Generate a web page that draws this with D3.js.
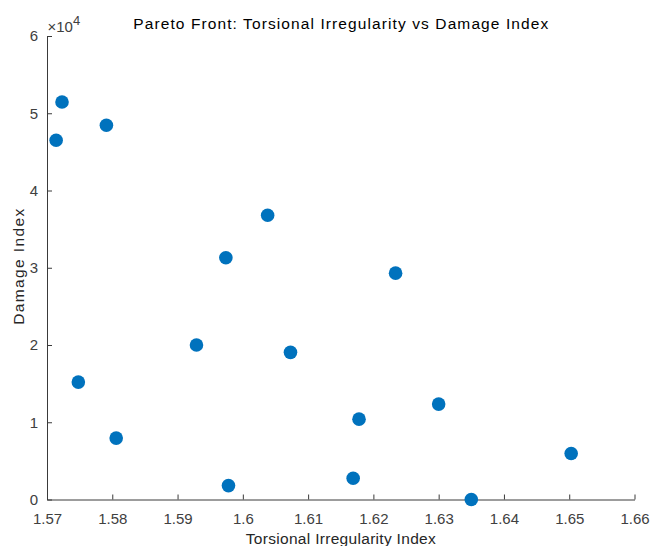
<!DOCTYPE html>
<html>
<head>
<meta charset="utf-8">
<script src="https://cdn.jsdelivr.net/npm/d3@7"></script>
<style>
  html, body { margin: 0; padding: 0; background: #fff; }
  svg { display: block; font-family: "Liberation Sans", Arial, Helvetica, sans-serif; }
</style>
</head>
<body>
<svg id="chart" width="652" height="546"></svg>
<script>
// Pareto solutions: torsional irregularity vs damage index
const torsionalIndex = [1.5714, 1.5723, 1.5791, 1.6038, 1.5974, 1.6234, 1.5929, 1.6073,
                        1.5748, 1.5806, 1.5978, 1.6169, 1.6178, 1.6300, 1.6350, 1.6503];
const damageIndex    = [46500, 51450, 48450, 36800, 31300, 29300, 20000, 19050,
                        15200, 7950, 1800, 2750, 10400, 12350, 0, 5950];

const xTicks = [1.57, 1.58, 1.59, 1.60, 1.61, 1.62, 1.63, 1.64, 1.65, 1.66];
const xTickLabels = ["1.57", "1.58", "1.59", "1.6", "1.61", "1.62", "1.63", "1.64", "1.65", "1.66"];
const yTicks = [0, 10000, 20000, 30000, 40000, 50000, 60000];
const yTickLabels = ["0", "1", "2", "3", "4", "5", "6"];

const titleText = "Pareto Front: Torsional Irregularity vs Damage Index";
const xLabelText = "Torsional Irregularity Index";
const yLabelText = "Damage Index";

const svg = d3.select("#chart");
const W = 652, H = 546;
const margin = { left: 47, right: W - 634.5, top: 36, bottom: H - 499.5 };

const x = d3.scaleLinear().domain([1.57, 1.66]).range([margin.left, W - margin.right]);
const y = d3.scaleLinear().domain([0, 60000]).range([H - margin.bottom, margin.top]);

const axisColor = "#3a3a3a";
const tickTextColor = "#404040";
const labelColor = "#262626";

// x axis, ticks pointing into the plot
const xAxis = d3.axisBottom(x)
  .tickValues(xTicks)
  .tickFormat((d, i) => xTickLabels[i])
  .tickSizeInner(-5)
  .tickSizeOuter(0)
  .tickPadding(14);

const gx = svg.append("g")
  .attr("transform", `translate(0,${H - margin.bottom})`)
  .call(xAxis);

// y axis, ticks pointing into the plot
const yAxis = d3.axisLeft(y)
  .tickValues(yTicks)
  .tickFormat((d, i) => yTickLabels[i])
  .tickSizeInner(-5)
  .tickSizeOuter(0)
  .tickPadding(9);

const gy = svg.append("g")
  .attr("transform", `translate(${margin.left},0)`)
  .call(yAxis);

[gx, gy].forEach(g => {
  g.attr("font-size", null).attr("font-family", null);
  g.select(".domain").attr("stroke", axisColor).attr("stroke-width", 1);
  g.selectAll(".tick line").attr("stroke", axisColor);
  g.selectAll(".tick text")
    .attr("fill", tickTextColor)
    .style("font-size", "15px");
});

// exponent marker for the y axis (values in units of 10^4)
const expText = svg.append("text")
  .attr("x", margin.left + 0.5)
  .attr("y", 31.5)
  .attr("fill", tickTextColor)
  .style("font-size", "15px");
expText.append("tspan").text("\u00d710");
expText.append("tspan").attr("dy", -7).style("font-size", "13px").text("4");

// scatter points
svg.append("g")
  .selectAll("circle")
  .data(torsionalIndex.map((t, i) => [t, damageIndex[i]]))
  .join("circle")
  .attr("cx", d => x(d[0]))
  .attr("cy", d => y(d[1]))
  .attr("r", 6.8)
  .attr("fill", "#0072BD");

const midX = (x.range()[0] + x.range()[1]) / 2;
const midY = (y.range()[0] + y.range()[1]) / 2;

// title
svg.append("text")
  .attr("x", midX)
  .attr("y", 28.5)
  .attr("text-anchor", "middle")
  .attr("fill", "#000")
  .attr("textLength", 415)
  .attr("lengthAdjust", "spacing")
  .style("font-size", "15.5px")
  .text(titleText);

// x axis label
svg.append("text")
  .attr("x", midX)
  .attr("y", 543.5)
  .attr("text-anchor", "middle")
  .attr("fill", labelColor)
  .attr("textLength", 190)
  .attr("lengthAdjust", "spacing")
  .style("font-size", "15.5px")
  .text(xLabelText);

// y axis label
svg.append("text")
  .attr("transform", `translate(23.5,${midY - 1}) rotate(-90)`)
  .attr("text-anchor", "middle")
  .attr("fill", labelColor)
  .attr("textLength", 116)
  .attr("lengthAdjust", "spacing")
  .style("font-size", "15.5px")
  .text(yLabelText);
</script>
</body>
</html>
